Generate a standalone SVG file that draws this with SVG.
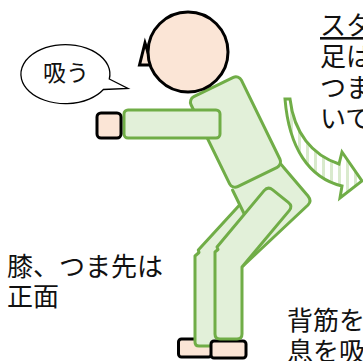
<svg xmlns="http://www.w3.org/2000/svg" width="363" height="361" viewBox="0 0 363 361">
  <defs>
    <style>
      .skin { fill: #fbe5d6; stroke: #000; stroke-width: 3; }
      .cloth { fill: #e2f0d9; stroke: #70ad47; stroke-width: 3; stroke-linejoin: round; }
      .cloth-fill { fill: #e2f0d9; stroke: none; }
      .cloth-line { fill: none; stroke: #70ad47; stroke-width: 3; stroke-linecap: round; }
      .label { font-family: "Noto Sans CJK JP", "Noto Sans", sans-serif; fill: #111; }
    </style>
    <pattern id="stripes" patternUnits="userSpaceOnUse" width="8" height="8">
      <rect x="0" y="0" width="8" height="8" fill="#fff"/>
      <rect x="2" y="0" width="3" height="8" fill="#d9eacd"/>
    </pattern>
  </defs>

  <!-- speech bubble -->
  <g id="bubble">
    <path d="M109.3,79 L128,88.5 L103.4,89.5 A44.5,29.5 0 1 1 109.3,79 Z" fill="#fff" stroke="#000" stroke-width="1.3"/>
    <text class="label" x="66" y="81" font-size="23" text-anchor="middle">吸う</text>
  </g>

  <!-- instruction texts -->
  <g id="note-top">
    <text class="label" font-size="26" x="320" y="35" text-decoration="underline">スタ</text>
    <text class="label" font-size="26" x="320" y="66">足は</text>
    <text class="label" font-size="26" x="320" y="97">つま</text>
    <text class="label" font-size="26" x="320" y="128">いて</text>
  </g>
  <g id="note-left">
    <text class="label" font-size="26" x="7" y="276">膝、つま先は</text>
    <text class="label" font-size="26" x="7" y="306">正面</text>
  </g>
  <g id="note-bottom">
    <text class="label" font-size="26" x="287" y="330">背筋を</text>
    <text class="label" font-size="26" x="287" y="361">息を吸</text>
  </g>

  <!-- curved motion arrow -->
  <g id="arrow">
    <path d="M285,99 L290,99 C294,133 312,155 339,164 L342,152 L362,181 L340,198 L342,186 C309,178 289,148 285,99 Z" fill="url(#stripes)" stroke="#70ad47" stroke-width="3" stroke-linejoin="miter"/>
  </g>

  <!-- figure -->
  <g id="figure">
    <rect id="foot-back" class="skin" x="178.5" y="339" width="33" height="18" rx="3"/>
    <path id="leg-back" class="cloth" d="M279,162 L308,196 Q312,201 308,205 L243,266 L222,272 L222,343 Q222,346 219,346 L199,346 Q195,346 195,342 L195,256 L199,252.5 L198.3,250 Z"/>
    <g id="hip">
      <path class="cloth-fill" d="M234,186 L276,158 L284,172 L272,196 L252,224 L244,215 L233,193 Z"/>
      <path class="cloth-line" d="M232.5,190 L244.5,214.5"/>
    </g>
    <rect id="torso" class="cloth" x="-28" y="-50" width="56" height="100" rx="6" transform="translate(235.5,132) rotate(-26)"/>
    <rect id="foot-front" class="skin" x="211" y="341" width="35" height="17" rx="3"/>
    <path id="leg-front" class="cloth" d="M272.7,189.8 L288.3,202.3 Q293,206 289.2,210.6 L242,267 L242,334 Q242,339 237,339 L220,339 Q215,339 215,334 L215,252 L218,249.5 L217,247 L264.1,190.6 Q268,186 272.7,189.8 Z"/>
    <rect id="arm" class="cloth" x="124" y="110" width="96" height="28" rx="4"/>
    <rect id="hand" class="skin" x="97" y="113" width="24" height="25" rx="4"/>
    <polygon id="nose" class="skin" points="139.5,65 145,43 152,65"/>
    <circle id="head" class="skin" cx="188" cy="52" r="40"/>
  </g>
</svg>
